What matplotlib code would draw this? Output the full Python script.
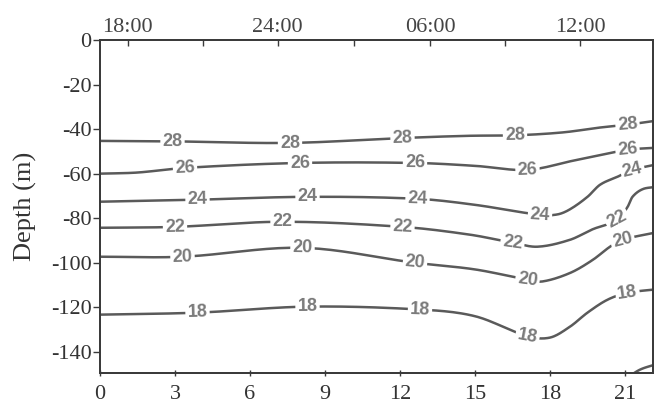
import numpy as np
import matplotlib
matplotlib.use("Agg")
import matplotlib.pyplot as plt

plt.rcParams['axes.unicode_minus'] = False

# ---- data (hours since start, depth in m) ----
levels = [28, 26, 24, 22, 20, 18]
t28_h = [0, 2.9, 7.6, 12.1, 14.8, 16.6, 18.5, 20.0, 21.1, 22.2]
t28_d = [-45.3, -45.5, -46.2, -44.0, -43.0, -42.8, -41.5, -39.3, -38.0, -36.3]
t26_h = [0, 1.5, 3.4, 8.0, 12.6, 15.0, 17.1, 19.0, 21.1, 22.2]
t26_d = [-60.0, -59.5, -57.4, -55.2, -55.2, -56.5, -58.3, -54.0, -49.3, -48.4]
t24_h = [0, 3.9, 8.3, 12.7, 15.0, 17.6, 18.3, 18.8, 19.5, 20.0, 20.7, 21.3, 22.2]
t24_d = [-72.6, -71.7, -70.4, -71.3, -74.0, -78.5, -78.3, -76.0, -70.4, -65.0, -61.4, -58.3, -56.0]
t22_h = [0, 3.0, 7.3, 12.1, 14.8, 16.5, 17.5, 18.8, 19.7, 20.7, 21.1, 21.3, 21.7, 22.2]
t22_d = [-84.3, -83.9, -81.6, -83.9, -87.4, -91.0, -92.8, -89.7, -85.0, -80.7, -75.0, -70.4, -67.0, -66.0]
t20_h = [0, 3.3, 8.1, 12.6, 15.0, 17.1, 17.7, 18.8, 19.7, 20.4, 20.9, 22.2]
t20_d = [-97.3, -97.3, -93.3, -100.0, -103.0, -107.6, -108.4, -104.6, -98.8, -92.8, -89.7, -86.5]
t18_h = [0, 3.9, 8.3, 12.8, 15.0, 17.1, 18.0, 18.8, 19.5, 20.3, 21.1, 22.2]
t18_d = [-123.3, -122.4, -119.7, -121.0, -124.0, -133.0, -133.6, -128.7, -122.4, -116.6, -113.5, -112.0]
t16_h = [21.1, 21.6, 22.2]
t16_d = [-151.5, -148.0, -145.7]

label_hours = {
    28: [2.9, 7.6, 12.1, 16.6, 21.1],
    26: [3.4, 8.0, 12.6, 17.1, 21.1],
    24: [3.9, 8.3, 12.7, 17.6, 21.3],
    22: [3.0, 7.3, 12.1, 16.5, 20.7],
    20: [3.3, 8.1, 12.6, 17.1, 20.9],
    18: [3.9, 8.3, 12.8, 17.1, 21.1],
}
lines = {28: (t28_h, t28_d), 26: (t26_h, t26_d), 24: (t24_h, t24_d),
         22: (t22_h, t22_d), 20: (t20_h, t20_d), 18: (t18_h, t18_d)}

bottom_ticks = [0, 3, 6, 9, 12, 15, 18, 21]
y_ticks = [0, -20, -40, -60, -80, -100, -120, -140]
top_ticks = [1.1, 4.1, 7.1, 10.15, 13.2, 16.2, 19.2]
top_labels = ["18:00", "", "24:00", "", "06:00", "", "12:00"]


def smooth(xs, ys, n=20):
    """Catmull-Rom style cubic Hermite curve through the given points (drawing only)."""
    x = np.asarray(xs, float)
    y = np.asarray(ys, float)
    m = np.zeros_like(y)
    m[1:-1] = (y[2:] - y[:-2]) / (x[2:] - x[:-2])
    m[0] = (y[1] - y[0]) / (x[1] - x[0])
    m[-1] = (y[-1] - y[-2]) / (x[-1] - x[-2])
    ox, oy = [], []
    for i in range(len(x) - 1):
        h = x[i + 1] - x[i]
        t = np.linspace(0, 1, n, endpoint=False)
        h00 = 2 * t**3 - 3 * t**2 + 1
        h10 = t**3 - 2 * t**2 + t
        h01 = -2 * t**3 + 3 * t**2
        h11 = t**3 - t**2
        ox.extend(x[i] + t * h)
        oy.extend(h00 * y[i] + h10 * h * m[i] + h01 * y[i + 1] + h11 * h * m[i + 1])
    ox.append(x[-1]); oy.append(y[-1])
    return np.array(ox), np.array(oy)


# ---- figure ----
fig = plt.figure(figsize=(6.56, 4.17), dpi=100)
ax = fig.add_axes([100/656, 1-373/417, 553/656, 333/417])
ax.set_xlim(0, 22.12)
ax.set_ylim(-149.5, 0)

line_col = "#5a5a5a"
lab_col = "#7a7a7a"
axis_col = "#3a3a3a"

fig.canvas.draw()
for lev in levels:
    h, d = lines[lev]
    sx, sy = smooth(h, d)
    ax.plot(sx, sy, color=line_col, lw=1.8, solid_capstyle='round', zorder=2)
    for lh in label_hours[lev]:
        ly = np.interp(lh, sx, sy)
        p1 = ax.transData.transform((lh - 0.3, np.interp(lh - 0.3, sx, sy)))
        p2 = ax.transData.transform((lh + 0.3, np.interp(lh + 0.3, sx, sy)))
        ang = np.degrees(np.arctan2(p2[1] - p1[1], p2[0] - p1[0]))
        ax.text(lh, ly, str(lev), color=lab_col, fontsize=13, fontweight='bold',
                family='Liberation Sans', ha='center', va='center',
                rotation=ang * 0.7, rotation_mode='anchor', zorder=3,
                bbox=dict(boxstyle='square,pad=0.12', fc='white', ec='none'))
sx, sy = smooth(t16_h, t16_d)
ax.plot(sx, sy, color=line_col, lw=1.8, zorder=2, clip_on=True)

serif = 'Liberation Serif'
ax.set_xticks(bottom_ticks)
ax.set_xticklabels([str(t) for t in bottom_ticks], family=serif, fontsize=16)
ax.set_yticks(y_ticks)
ax.set_yticklabels([str(t) for t in y_ticks], family=serif, fontsize=16)
ax.tick_params(axis='x', direction='inout', length=5, width=1, colors=axis_col, pad=6)
ax.tick_params(axis='y', direction='out', length=5, width=1, colors=axis_col, pad=1)
for lbl in ax.get_xticklabels() + ax.get_yticklabels():
    lbl.set_color("#333333")
ax.set_ylabel("Depth (m)", family=serif, fontsize=19, color="#333333", labelpad=10)

for s in ax.spines.values():
    s.set_color(axis_col)
    s.set_linewidth(1.3)

ax2 = ax.twiny()
ax2.set_xlim(ax.get_xlim())
ax2.set_xticks(top_ticks)
ax2.set_xticklabels(top_labels, family=serif, fontsize=16)
ax2.tick_params(axis='x', direction='in', length=4, width=1, colors=axis_col, pad=2)
for lbl in ax2.get_xticklabels():
    lbl.set_color("#444444")
for s in ax2.spines.values():
    s.set_color(axis_col)
    s.set_linewidth(1.3)

fig.savefig("out.png", dpi=100, facecolor='white')
